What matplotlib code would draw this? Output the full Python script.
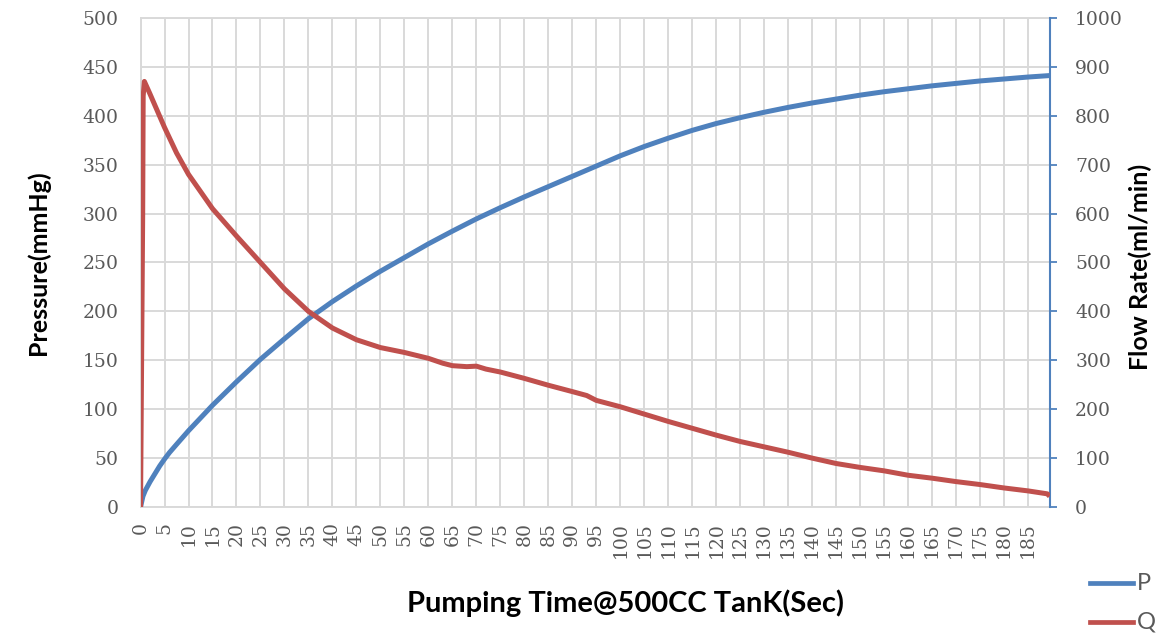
import matplotlib
matplotlib.use("Agg")
import matplotlib.pyplot as plt
from matplotlib.lines import Line2D

# ---- data ----
t_p = [0, 0.5, 1, 2, 3, 4, 5, 6, 7.5, 10, 15, 20, 25, 30, 35, 40, 45, 50, 55,
       60, 65, 70, 75, 80, 85, 90, 95, 100, 105, 110, 115, 120, 125, 130, 135,
       140, 145, 150, 155, 160, 165, 170, 175, 180, 185, 189.5]
p_vals = [0, 11, 17, 26, 34, 42, 49, 55.5, 64, 78, 104, 128, 151, 172, 192.5,
          210, 226, 241, 255, 269, 282, 294.5, 306, 317, 327.5, 338, 348.5, 359,
          368.5, 377, 385, 392, 398, 403.5, 408.5, 413, 417, 421, 424.5, 427.5,
          430.5, 433, 435.5, 437.5, 439.5, 441]

t_q = [0, 0.45, 0.55, 0.8, 1.9, 5, 7.5, 10, 15, 20, 25, 30, 35, 40, 45, 50,
       55, 60, 63, 65, 68, 70, 72, 75, 80, 85, 90, 93, 95, 100, 105, 110, 115,
       120, 125, 130, 135, 140, 145, 150, 155, 160, 165, 170, 175, 180, 185,
       189, 189.5]
q_vals = [0, 600, 840, 870, 846, 776, 724, 680, 610, 554, 500, 446, 400,
          366, 342, 326, 316, 304, 294, 289, 287, 288, 282, 276, 263, 249, 236,
          228, 218, 205, 190, 175, 161, 147, 134, 123, 112, 100, 89, 81, 74, 65,
          59, 52, 46, 39, 33, 27, 22]

x_ticks = list(range(0, 190, 5))
p_ticks = list(range(0, 501, 50))
q_ticks = list(range(0, 1001, 100))
series_names = ["P", "Q"]

BLUE = "#4F81BD"
RED = "#C0504D"
GRID = "#D9D9D9"
TXT = "#595959"
TICKFONT = dict(fontfamily="DejaVu Serif", fontsize=13.5, color=TXT)
LABFONT = dict(fontfamily="Lato", fontweight="bold", color="black")

fig = plt.figure(figsize=(11.76, 6.37), dpi=100)
ax = fig.add_axes([0.1195, 0.204, 0.7735, 0.768])
ax2 = ax.twinx()

ax.plot(t_p, p_vals, color=BLUE, lw=3.6, solid_capstyle="butt", zorder=3)
ax2.plot(t_q, q_vals, color=RED, lw=3.6, solid_capstyle="butt", zorder=3)

ax.set_xlim(0, 189.6)
ax.set_ylim(0, 500)
ax2.set_ylim(0, 1000)

ax.set_xticks(x_ticks)
ax.set_xticklabels([str(v) for v in x_ticks], rotation=90, **TICKFONT)
ax.set_yticks(p_ticks)
ax.set_yticklabels([str(v) for v in p_ticks], **TICKFONT)
ax2.set_yticks(q_ticks)
ax2.set_yticklabels([str(v) for v in q_ticks], **TICKFONT)

ax.grid(True, color=GRID, lw=1.4, zorder=0)
ax.set_axisbelow(True)
ax.tick_params(axis="y", length=0, pad=16)
ax.tick_params(axis="x", length=0, pad=11)
ax2.tick_params(axis="y", length=5, width=1.3, color=BLUE, pad=13,
                direction="out")

for s in ["top", "left", "bottom"]:
    ax.spines[s].set_color(GRID)
    ax.spines[s].set_linewidth(1.4)
    ax2.spines[s].set_visible(False)
ax.spines["right"].set_visible(False)
ax2.spines["right"].set_color(BLUE)
ax2.spines["right"].set_linewidth(1.5)

ax.set_xlabel("Pumping Time@500CC TanK(Sec)", fontsize=21, **LABFONT)
ax.xaxis.set_label_coords(0.533, -0.168)
ax.set_ylabel("Pressure(mmHg)", fontsize=18, **LABFONT)
ax.yaxis.set_label_coords(-0.099, 0.5)
ax2.set_ylabel("Flow Rate(ml/min)", fontsize=18, **LABFONT)
ax2.yaxis.set_label_coords(1.086, 0.49)

# legend drawn in figure pixels, outside the plot area
H = 637.0
W = 1176.0
for name, col, ypix in zip(series_names, [BLUE, RED], [583, 622]):
    fig.add_artist(Line2D([1090 / W, 1133 / W], [1 - ypix / H, 1 - ypix / H],
                          color=col, lw=3.4, transform=fig.transFigure))
    fig.text(1137 / W, 1 - ypix / H, name, ha="left", va="center",
             fontfamily="Lato", fontsize=17, color=TXT)

fig.savefig("out.png", dpi=100, facecolor="white")
